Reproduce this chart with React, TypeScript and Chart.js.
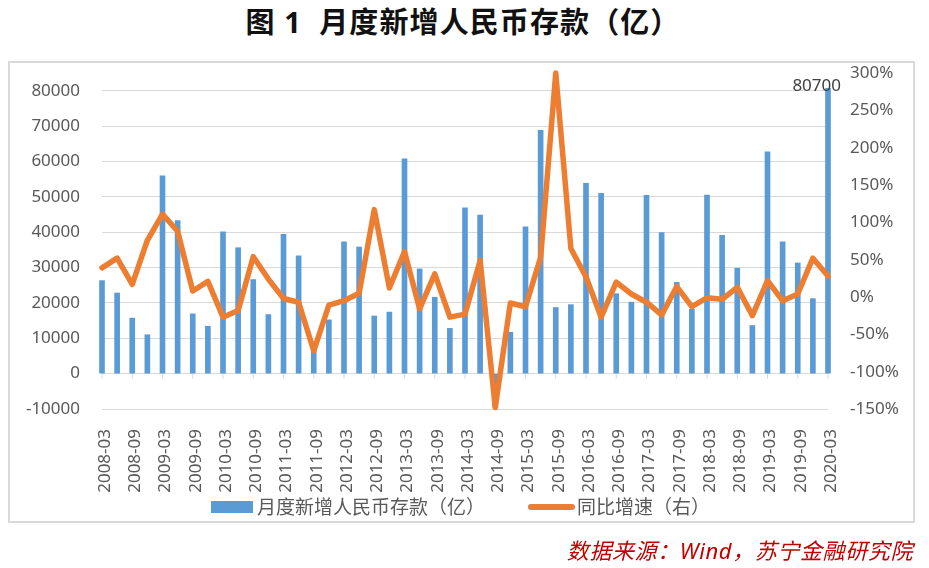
import React, { useEffect, useRef } from 'react';
import Chart from 'chart.js/auto';

// quarter-end months, 2008Q1 .. 2020Q1
const quarters = [
  '2008-03', '2008-06', '2008-09', '2008-12',
  '2009-03', '2009-06', '2009-09', '2009-12',
  '2010-03', '2010-06', '2010-09', '2010-12',
  '2011-03', '2011-06', '2011-09', '2011-12',
  '2012-03', '2012-06', '2012-09', '2012-12',
  '2013-03', '2013-06', '2013-09', '2013-12',
  '2014-03', '2014-06', '2014-09', '2014-12',
  '2015-03', '2015-06', '2015-09', '2015-12',
  '2016-03', '2016-06', '2016-09', '2016-12',
  '2017-03', '2017-06', '2017-09', '2017-12',
  '2018-03', '2018-06', '2018-09', '2018-12',
  '2019-03', '2019-06', '2019-09', '2019-12',
  '2020-03',
];

// 月度新增人民币存款（亿）
const depositValues = [
  26300, 22800, 15700, 11000,
  55900, 43300, 16900, 13400,
  40100, 35600, 26600, 16700,
  39400, 33300, 7400, 15200,
  37300, 35800, 16300, 17400,
  60700, 29600, 21600, 12800,
  46900, 44800, -9500, 11700,
  41500, 68800, 18700, 19500,
  53800, 51000, 22600, 20200,
  50400, 39900, 25800, 18200,
  50500, 39100, 29800, 13600,
  62700, 37300, 31300, 21200,
  80700,
];

// 同比增速（%）
const yoyGrowth = [
  39, 52, 17, 76,
  111, 88, 8, 21,
  -27, -18, 54, 24,
  -2, -7, -72, -11,
  -5, 5, 117, 12,
  61, -16, 31, -27,
  -23, 49, -148, -8,
  -13, 53, 300, 65,
  27, -27, 20, 4,
  -7, -24, 14, -13,
  -1, -3, 13, -25,
  22, -5, 4, 52,
  28,
];

const leftTicks = [-10000, 0, 10000, 20000, 30000, 40000, 50000, 60000, 70000, 80000];
const rightTicks = [-150, -100, -50, 0, 50, 100, 150, 200, 250, 300];

const BAR_LABEL = '月度新增人民币存款（亿）';
const LINE_LABEL = '同比增速（右）';

const BLUE = '#5B9BD5';
const ORANGE = '#ED7D31';
const TEXT = '#595959';
const GRID = '#D9D9D9';
const FONT = '"Noto Sans", "Noto Sans CJK SC", sans-serif';

// small tick marks hanging under the zero line, every second quarter
const zeroTicks = {
  id: 'zeroTicks',
  beforeDatasetsDraw(chart: any) {
    const { ctx, scales } = chart;
    const y0 = scales.y.getPixelForValue(0);
    ctx.save();
    ctx.strokeStyle = GRID;
    ctx.lineWidth = 1;
    ctx.beginPath();
    quarters.forEach((_, i) => {
      if (i % 2 !== 0) return;
      const px = scales.x.getPixelForValue(i);
      ctx.moveTo(px, y0);
      ctx.lineTo(px, y0 + 5);
    });
    ctx.stroke();
    ctx.restore();
  },
};

// value label on the last bar only
const lastLabel = {
  id: 'lastLabel',
  afterDatasetsDraw(chart: any) {
    const { ctx } = chart;
    const i = depositValues.length - 1;
    const bar = chart.getDatasetMeta(0).data[i];
    if (!bar) return;
    ctx.save();
    ctx.font = `17px ${FONT}`;
    ctx.fillStyle = '#404040';
    ctx.textAlign = 'right';
    ctx.textBaseline = 'middle';
    ctx.fillText(String(depositValues[i]), bar.x + 13, bar.y - 2);
    ctx.restore();
  },
};

function DepositChart() {
  const canvasRef = useRef<HTMLCanvasElement | null>(null);

  useEffect(() => {
    if (!canvasRef.current) return;
    Chart.defaults.font.family = FONT;

    const chart = new Chart(canvasRef.current, {
      type: 'bar',
      data: {
        labels: quarters,
        datasets: [
          {
            type: 'bar',
            label: BAR_LABEL,
            data: depositValues,
            backgroundColor: BLUE,
            barThickness: 5,
            yAxisID: 'y',
            order: 1,
            clip: false,
          },
          {
            type: 'line',
            label: LINE_LABEL,
            data: yoyGrowth,
            borderColor: ORANGE,
            backgroundColor: ORANGE,
            borderWidth: 5.5,
            borderJoinStyle: 'round',
            borderCapStyle: 'round',
            pointRadius: 0,
            tension: 0,
            yAxisID: 'y1',
            order: 0,
            clip: false,
          },
        ],
      } as any,
      options: {
        animation: false,
        responsive: true,
        maintainAspectRatio: false,
        events: [],
        layout: { padding: { top: 73, bottom: 69, left: 0, right: 12 } },
        plugins: {
          tooltip: { enabled: false },
          legend: { display: false },
        },
        scales: {
          x: {
            offset: false,
            grid: { display: false },
            border: { display: false },
            ticks: {
              autoSkip: false,
              minRotation: 90,
              maxRotation: 90,
              padding: 12,
              labelOffset: 3,
              color: TEXT,
              font: { size: 17 },
              callback: (_v: any, i: number) => (i % 2 === 0 ? quarters[i] : ''),
            },
            afterFit: (s: any) => {
              s.height = 90;
            },
          },
          y: {
            position: 'left',
            min: -10000,
            max: 85000,
            afterBuildTicks: (s: any) => {
              s.ticks = leftTicks.map((value) => ({ value }));
            },
            grid: { color: GRID, lineWidth: 1, drawTicks: false },
            border: { display: false },
            ticks: {
              padding: 22,
              color: TEXT,
              font: { size: 17 },
              callback: (v: any) => String(v),
            },
            afterFit: (s: any) => {
              s.width = 102;
            },
          },
          y1: {
            position: 'right',
            min: -150,
            max: 300,
            afterBuildTicks: (s: any) => {
              s.ticks = rightTicks.map((value) => ({ value }));
            },
            grid: { display: false, drawTicks: false },
            border: { display: false },
            ticks: {
              padding: 22,
              color: TEXT,
              font: { size: 17 },
              callback: (v: any) => `${v}%`,
            },
            afterFit: (s: any) => {
              s.width = 89;
            },
          },
        },
      } as any,
      plugins: [zeroTicks, lastLabel],
    });

    return () => {
      chart.destroy();
    };
  }, []);

  const legendText: React.CSSProperties = {
    position: 'absolute',
    top: 493,
    font: `19px ${FONT}`,
    lineHeight: '28px',
    color: TEXT,
    whiteSpace: 'nowrap',
  };

  return (
    <div style={{ position: 'absolute', left: 0, top: 0, width: 929, height: 568, background: '#fff' }}>
      <div
        style={{
          position: 'absolute',
          top: 4,
          left: 7,
          width: 912,
          textAlign: 'center',
          font: `bold 29px ${FONT}`,
          lineHeight: '36px',
          letterSpacing: '1.1px',
          color: '#111',
          whiteSpace: 'pre',
        }}
      >
        {'图 1  月度新增人民币存款（亿）'}
      </div>
      <div
        style={{
          position: 'absolute',
          left: 8,
          top: 61,
          width: 907,
          height: 462,
          border: `2px solid ${GRID}`,
          boxSizing: 'border-box',
        }}
      />
      <div style={{ position: 'absolute', left: 0, top: 0, width: 929, height: 568 }}>
        <canvas ref={canvasRef}></canvas>
      </div>
      {/* legend */}
      <div style={{ position: 'absolute', left: 211, top: 501, width: 42, height: 12, background: BLUE }} />
      <div style={{ ...legendText, left: 257 }}>{BAR_LABEL}</div>
      <div
        style={{
          position: 'absolute',
          left: 528,
          top: 504,
          width: 47,
          height: 6,
          borderRadius: 3,
          background: ORANGE,
        }}
      />
      <div style={{ ...legendText, left: 577 }}>{LINE_LABEL}</div>
      <div
        style={{
          position: 'absolute',
          right: 16,
          top: 536,
          font: `italic 22px ${FONT}`,
          lineHeight: '28px',
          letterSpacing: '0.6px',
          color: '#C00000',
        }}
      >
        数据来源：Wind，苏宁金融研究院
      </div>
    </div>
  );
}

export default function App() {
  return <DepositChart />;
}
